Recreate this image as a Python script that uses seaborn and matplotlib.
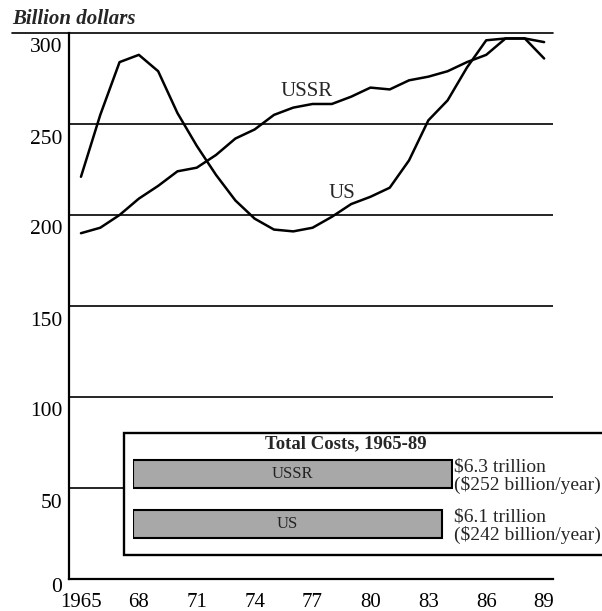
import matplotlib
matplotlib.use("Agg")
import numpy as np
import pandas as pd
import matplotlib.pyplot as plt
import matplotlib.transforms as mtransforms
from matplotlib.patches import Rectangle
import seaborn as sns

# military spending, billion dollars
years = list(range(1965, 1990))
us_spending = [221, 255, 284, 288, 279, 256, 238, 222, 208, 198, 192, 191, 193,
               199, 206, 210, 215, 230, 252, 263, 281, 296, 297, 297, 286]
ussr_spending = [190, 193, 200, 209, 216, 224, 226, 233, 242, 247, 255, 259, 261,
                 261, 265, 270, 269, 274, 276, 279, 284, 288, 297, 297, 295]

y_ticks = [0, 50, 100, 150, 200, 250, 300]
x_tick_labels = ["1965", "", "", "68", "", "", "71", "", "", "74", "", "", "77",
                 "", "", "80", "", "", "83", "", "", "86", "", "", "89"]

totals_country = ["USSR", "US"]
totals_trillion = [6.3, 6.1]
totals_text = ["\\$6.3 trillion\n(\\$252 billion/year)",
               "\\$6.1 trillion\n(\\$242 billion/year)"]

sns.set_style("white")
plt.rcParams['font.family'] = ['Liberation Serif', 'DejaVu Serif']

W, H = 602, 611
fig = plt.figure(figsize=(W / 100, H / 100), dpi=100)
ax = fig.add_axes([69 / W, (H - 579) / H, 484 / W, 546 / H])

df = pd.DataFrame({
    "year": years * 2,
    "spend": us_spending + ussr_spending,
    "country": ["US"] * len(years) + ["USSR"] * len(years),
})
sns.lineplot(data=df, x="year", y="spend", hue="country",
             palette={"US": "black", "USSR": "black"}, linewidth=1.8,
             legend=False, ax=ax, zorder=3)

ax.set_xlim(1964.38, 1989.46)
ax.set_ylim(0, 300)
for v in y_ticks[1:-1]:
    ax.axhline(v, color="black", lw=1.2, zorder=1)
ax.axhline(300, xmin=-0.118, xmax=1, color="black", lw=1.2, clip_on=False, zorder=1)

for s in ["top", "right"]:
    ax.spines[s].set_visible(False)
for s in ["left", "bottom"]:
    ax.spines[s].set_color("black")
    ax.spines[s].set_linewidth(1.6)

ax.set_yticks(y_ticks)
ax.set_yticklabels([str(v) for v in y_ticks])
ax.tick_params(axis="y", length=0, pad=5, labelsize=15.5, colors="black")
for v, lab in zip(y_ticks, ax.get_yticklabels()):
    dy = -4 if v == 0 else -9
    shift = mtransforms.ScaledTranslation(0, dy / 72, fig.dpi_scale_trans)
    lab.set_transform(lab.get_transform() + shift)

ax.set_xticks(years)
ax.set_xticklabels(x_tick_labels)
ax.tick_params(axis="x", direction="in", length=8, width=1.5, pad=10,
               labelsize=15, colors="black")
ax.set_xlabel("")
ax.set_ylabel("")

ax.text(1976.7, 268, "USSR", ha="center", va="center", fontsize=15)
ax.text(1978.5, 212, "US", ha="center", va="center", fontsize=15)

fig.text(12 / W, 1 - 19 / H, "Billion dollars", ha="left", va="center",
         fontsize=15, fontweight="bold", fontstyle="italic")

# inset box with totals
box = Rectangle((124 / W, (H - 555) / H), (640 - 124) / W, (555 - 433) / H,
                transform=fig.transFigure, facecolor="white", edgecolor="black",
                lw=1.7, zorder=1)
fig.patches.append(box)

bx = fig.add_axes([133 / W, (H - 549) / H, 320 / W, 100 / H])
bx.set_zorder(2)
sns.barplot(x=totals_trillion, y=totals_country, orient="h", color="#a8a8a8",
            edgecolor="black", linewidth=1.5, width=0.56, ax=bx)
bx.set_xlim(0, 6.32)
bx.set_ylim(1.5, -0.5)
bx.axis("off")
text_x = max(totals_trillion) + 0.04
for i, (name, v, txt) in enumerate(zip(totals_country, totals_trillion, totals_text)):
    bx.text(v / 2, i, name, ha="center", va="center", fontsize=12, color="#222222")
    bx.text(text_x, i + 0.04, txt, ha="left", va="center", fontsize=14,
            linespacing=1.0, clip_on=False)

fig.text(346 / W, 1 - 444 / H, "Total Costs, 1965-89", ha="center", va="center",
         fontsize=13.5, fontweight="bold")

fig.savefig("out.png", dpi=100)
